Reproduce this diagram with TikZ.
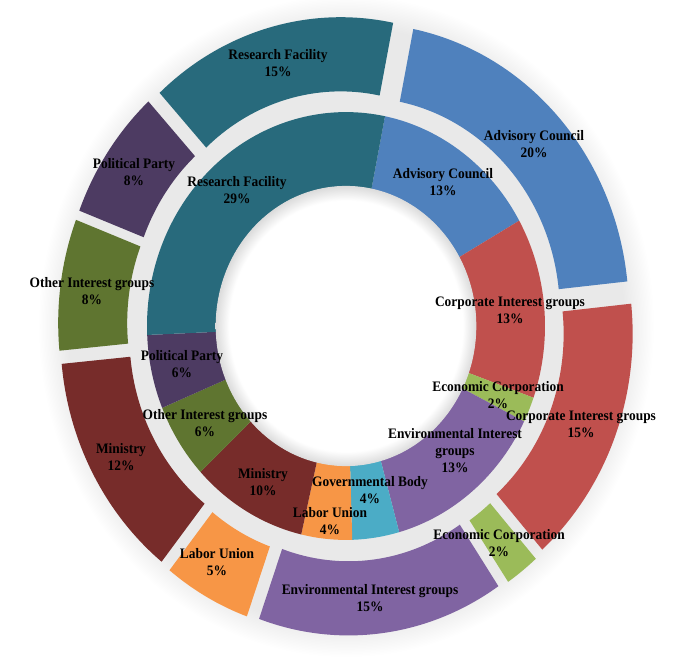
\documentclass[tikz,border=0pt]{standalone}
\usepackage{fontspec}
\setmainfont{Liberation Serif}
\definecolor{cRF}{RGB}{40,106,124}
\definecolor{cAC}{RGB}{79,129,189}
\definecolor{cCIG}{RGB}{192,80,77}
\definecolor{cEC}{RGB}{155,187,89}
\definecolor{cEIG}{RGB}{128,100,162}
\definecolor{cGB}{RGB}{75,172,198}
\definecolor{cLU}{RGB}{247,150,70}
\definecolor{cMin}{RGB}{119,44,42}
\definecolor{cOth}{RGB}{95,117,48}
\definecolor{cPP}{RGB}{77,59,98}
% radial shadings: radius 25bp corresponds to the edge of the shaded circle
\pgfdeclareradialshading{halo}{\pgfpoint{0bp}{0bp}}{rgb(0bp)=(0.915,0.915,0.915); rgb(22.6bp)=(0.915,0.915,0.915); rgb(23.6bp)=(0.95,0.95,0.95); rgb(25bp)=(1,1,1); rgb(50bp)=(1,1,1)}
\pgfdeclareradialshading{holeshade}{\pgfpoint{0bp}{0bp}}{rgb(0bp)=(1,1,1); rgb(22.4bp)=(1,1,1); rgb(25bp)=(0.86,0.86,0.86); rgb(50bp)=(0.86,0.86,0.86)}
% #1 start angle (clockwise from top), #2 end angle, #3 inner r, #4 outer r, #5 explosion, #6 colour
\newcommand\ringseg[6]{%
  \pgfmathsetmacro\rsA{90-#1}%
  \pgfmathsetmacro\rsB{90-#2}%
  \pgfmathsetmacro\rsM{90-(#1+#2)/2}%
  \fill[#6, shift={(\rsM:#5)}] (\rsA:#4) arc[start angle=\rsA, end angle=\rsB, radius=#4]
    -- (\rsB:#3) arc[start angle=\rsB, end angle=\rsA, radius=#3] -- cycle;}
\begin{document}
\begin{tikzpicture}[x=1pt,y=1pt,
  lbl/.style={font=\fontsize{13.4}{15.8}\selectfont\bfseries, align=center, inner sep=0pt, text=black, yscale=1.08}]
\useasboundingbox (0,0) rectangle (693,657);
\fill[white] (0,0) rectangle (693,657);
\begin{scope}[shift={(346,331)}, yscale=1.075]
  % halo / shadow behind the chart
  \shade[shading=halo] (0,0) circle[radius=308];
  % inner ring
  \ringseg{11.3}{60.5}{130}{199}{0}{cAC}
  \ringseg{60.5}{109.6}{130}{199}{0}{cCIG}
  \ringseg{109.6}{116.5}{130}{199}{0}{cEC}
  \ringseg{116.5}{164.5}{130}{199}{0}{cEIG}
  \ringseg{164.5}{178.2}{130}{199}{0}{cGB}
  \ringseg{178.2}{193}{130}{199}{0}{cLU}
  \ringseg{193}{227}{130}{199}{0}{cMin}
  \ringseg{227}{247.5}{130}{199}{0}{cOth}
  \ringseg{247.5}{267.6}{130}{199}{0}{cPP}
  \ringseg{267.6}{371.3}{130}{199}{0}{cRF}
  % outer ring (exploded)
  \ringseg{11.3}{84}{199}{268}{20}{cAC}
  \ringseg{84}{138.5}{199}{268}{20}{cCIG}
  \ringseg{138.5}{146}{199}{268}{20}{cEC}
  \ringseg{146}{199.5}{199}{268}{20}{cEIG}
  \ringseg{199.5}{218.5}{199}{268}{20}{cLU}
  \ringseg{218.5}{264.5}{199}{268}{20}{cMin}
  \ringseg{264.5}{291}{199}{268}{20}{cOth}
  \ringseg{291}{317.5}{199}{268}{20}{cPP}
  \ringseg{317.5}{371.3}{199}{268}{20}{cRF}
  % hole
  \shade[shading=holeshade] (0,0) circle[radius=130.3];
\end{scope}
% labels, outer ring
\node[lbl] (oRF)  at (278,594) {Research Facility\\15\%};
\node[lbl] (oAC)  at (534,513) {Advisory Council\\20\%};
\node[lbl] (oPP)  at (134,485) {Political Party\\8\%};
\node[lbl] (oOth) at (92,366)  {Other Interest groups\\8\%};
\node[lbl] (oCIG) at (581,233) {Corporate Interest groups\\15\%};
\node[lbl] (oEC)  at (499,114) {Economic Corporation\\2\%};
\node[lbl] (oEIG) at (370,59)  {Environmental Interest groups\\15\%};
\node[lbl] (oLU)  at (217,95)  {Labor Union\\5\%};
\node[lbl] (oMin) at (121,200) {Ministry\\12\%};
% labels, inner ring
\node[lbl] (iAC)  at (443,475) {Advisory Council\\13\%};
\node[lbl] (iRF)  at (237,467) {Research Facility\\29\%};
\node[lbl] (iCIG) at (510,347) {Corporate Interest groups\\13\%};
\node[lbl] (iEC)  at (498,262) {Economic Corporation\\2\%};
\node[lbl] (iEIG) at (455,206) {Environmental Interest\\groups\\13\%};
\node[lbl] (iPP)  at (182,293) {Political Party\\6\%};
\node[lbl] (iOth) at (205,234) {Other Interest groups\\6\%};
\node[lbl] (iMin) at (263,175) {Ministry\\10\%};
\node[lbl] (iGB)  at (370,167) {Governmental Body\\4\%};
\node[lbl] (iLU)  at (330,136) {Labor Union\\4\%};
\end{tikzpicture}
\end{document}
